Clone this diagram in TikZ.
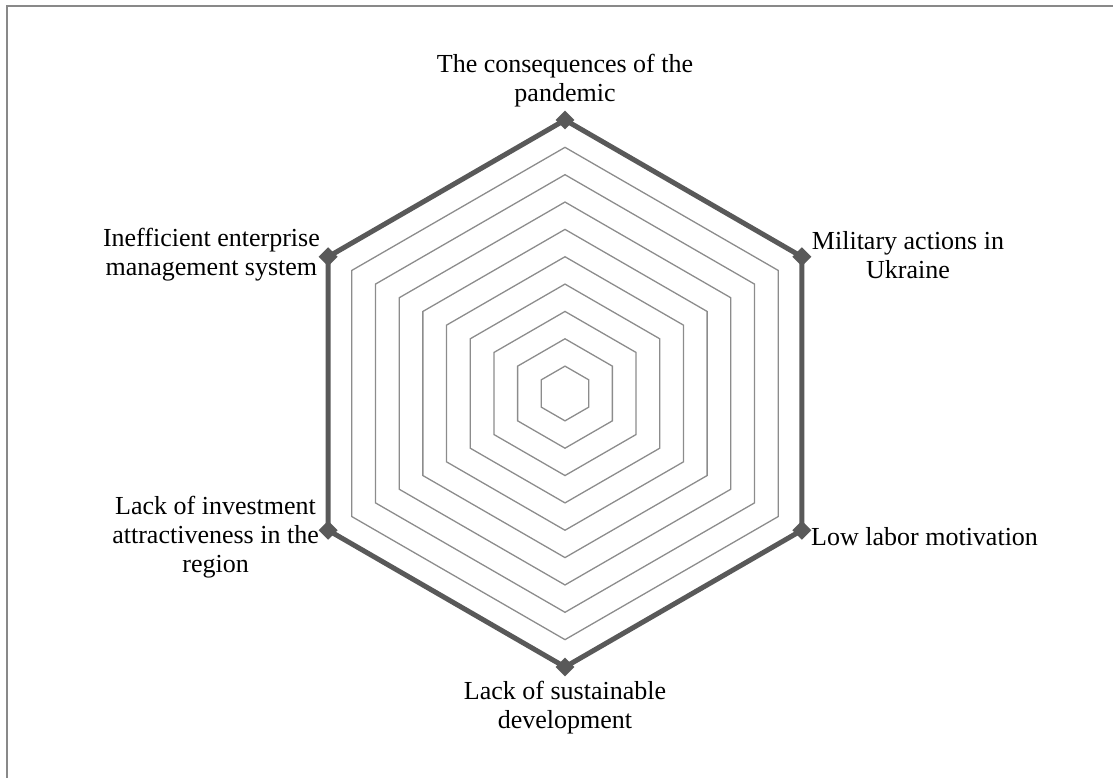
\documentclass[tikz,border=0pt]{standalone}
\usepackage{fontspec}
\setmainfont{Liberation Serif}
\usetikzlibrary{shapes.geometric,calc}
\definecolor{thickgray}{HTML}{595959}
\definecolor{ringgray}{HTML}{8C8C8C}
\definecolor{framegray}{HTML}{898989}
\tikzset{
  ring/.style={draw=ringgray, line width=1.3pt, line join=miter},
  outerring/.style={draw=thickgray, line width=5pt, line join=miter},
  marker/.style={diamond, fill=thickgray, draw=none, minimum width=19pt, minimum height=19pt, inner sep=0pt},
  lbl/.style={align=center, font=\fontsize{26}{29}\selectfont, inner sep=0pt, text=black},
  frameline/.style={draw=framegray, line width=1.5pt}
}
\begin{document}
\begin{tikzpicture}[x=1pt,y=1pt]
\useasboundingbox (0,0) rectangle (1113,778);
\coordinate (fTR) at (1113,772);
\coordinate (fTL) at (7,772);
\coordinate (fBL) at (7,0);
\draw[frameline] (fTR) -- (fTL) -- (fBL);
\coordinate (c) at (565,384.5);
% inner rings
\foreach \k in {1,...,9}{
  \pgfmathsetmacro{\r}{27.35*\k}
  \draw[ring] ($(c)+(90:\r)$) -- ($(c)+(30:\r)$) -- ($(c)+(-30:\r)$) -- ($(c)+(-90:\r)$) -- ($(c)+(-150:\r)$) -- ($(c)+(150:\r)$) -- cycle;
}
% outer ring vertices
\coordinate (v1) at ($(c)+(90:273.5)$);
\coordinate (v2) at ($(c)+(30:273.5)$);
\coordinate (v3) at ($(c)+(-30:273.5)$);
\coordinate (v4) at ($(c)+(-90:273.5)$);
\coordinate (v5) at ($(c)+(-150:273.5)$);
\coordinate (v6) at ($(c)+(150:273.5)$);
\draw[outerring] (v1) -- (v2) -- (v3) -- (v4) -- (v5) -- (v6) -- cycle;
\foreach \i in {1,...,6}{\node[marker] (m\i) at (v\i) {};}
% labels
\node[lbl] (t1) at (565,697) {The consequences of the\\pandemic};
\node[lbl] (t2) at (908,523) {Military actions in\\Ukraine};
\node[lbl, anchor=west] (t3) at (811,241) {Low labor motivation};
\node[lbl] (t4) at (565,70) {Lack of sustainable\\development};
\node[lbl, anchor=east] (t5) at (319,241) {Lack of investment\\attractiveness in the\\region};
\node[lbl, anchor=east] (t6) at (320,523) {Inefficient enterprise\\management system};
\end{tikzpicture}
\end{document}
